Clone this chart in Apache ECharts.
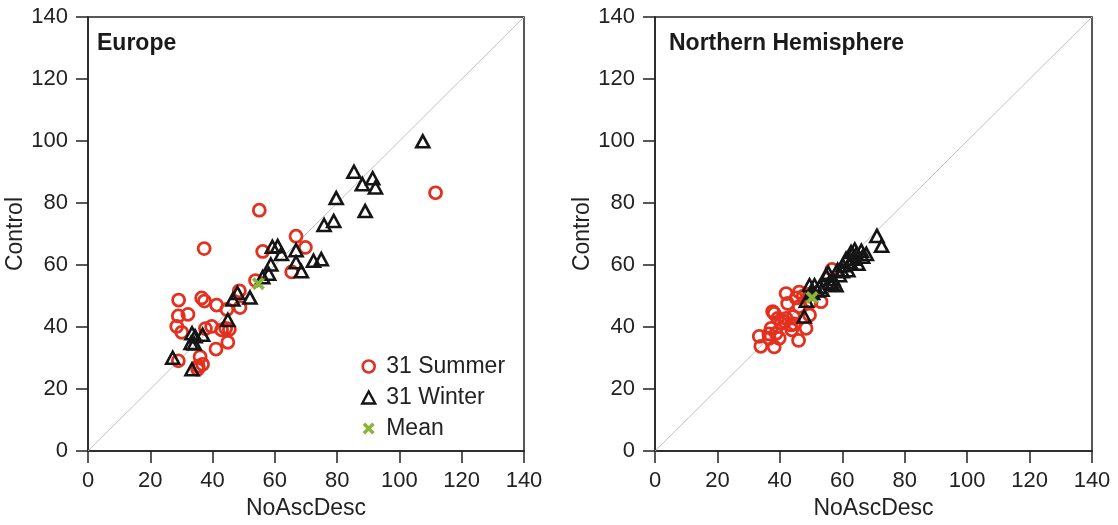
<!DOCTYPE html>
<html>
<head>
<meta charset="utf-8">
<script src="https://cdn.jsdelivr.net/npm/echarts@6/dist/echarts.min.js"></script>
<style>
html,body{margin:0;padding:0;background:#fff;}
#c{width:1118px;height:525px;}
</style>
</head>
<body>
<div id="c"></div>
<script>
// ---- Data ----
const axisTicks = [0, 20, 40, 60, 80, 100, 120, 140];
const panelTitles = ['Europe', 'Northern Hemisphere'];
const seriesNames = ['31 Summer', '31 Winter', 'Mean'];
const xAxisName = 'NoAscDesc';
const yAxisName = 'Control';

const europeSummer = [
  [111.6,83.3],[55,77.7],[66.8,69.3],[69.8,65.7],[56.1,64.4],[37.3,65.3],[65.4,57.8],
  [53.8,55],[48.6,51.7],[29.1,48.7],[36.5,49.4],[37.4,48.4],[41.3,47.1],[48.8,46.3],
  [44.6,45.7],[29,43.6],[32.1,44.1],[28.5,40.2],[30.1,38.3],[37.7,39.5],[39.7,40.2],
  [42.9,39.1],[44.2,39.6],[45.4,39.3],[44.9,35.1],[41.1,32.9],[29,29.1],[36,30.4],
  [36.8,28],[35.4,27.4],[35.2,26.4]
];
const europeWinter = [
  [107.5,99.9],[85.4,90.1],[88.1,86.1],[91.4,88],[92.3,85],[79.7,81.6],[89,77.4],
  [75.8,72.9],[78.9,74.2],[72.4,61.4],[74.9,61.9],[59.2,65.9],[60.9,66.1],[62.1,63.6],
  [66.8,64.8],[66.8,60.9],[68.5,58],[58.7,60.2],[58,57.2],[56.1,56.1],[52,49.5],
  [46.5,48.9],[44.9,42.3],[33.4,38],[34.4,37],[33.1,34.9],[34.1,34.7],[27.2,30.1],
  [33.4,26.4],[36.8,37.5],[48,51]
];
const europeMean = [[54.7,54]];

const nhSummer = [
  [56.7,58.6],[42,50.8],[46.2,51.3],[49.5,50.6],[45.2,49.4],[42.5,47.6],[46.2,46.6],
  [50,48.2],[53.2,48.2],[49.5,43.9],[37.7,45],[39.3,42.8],[42,42.8],[40.4,41.2],
  [43.6,40.7],[48.4,39.6],[37.2,39.6],[38.8,38],[33.4,37],[39.8,36.4],[36.6,36.4],
  [33.9,33.8],[38.2,33.6],[46,35.7],[44.6,41],[43.8,39.1],[38.2,44.4],[44.3,43.4],
  [41.5,41.8],[36.5,37.8],[47.5,50]
];
const nhWinter = [
  [71.1,69.4],[72.6,66.2],[67.7,63.6],[66.1,64.6],[64.5,63.6],[63.4,62],[65,60.4],
  [61.2,62],[60.2,59.9],[61.8,58.3],[59.1,56.7],[58,53.5],[55.9,54.5],[54.8,56.7],
  [51.1,53.5],[52.7,52.9],[49.5,53.5],[47.8,43.4],[56.8,54],[62.5,61],[64,65],
  [60,58],[57,55.5],[53.5,52],[50.5,51],[48.5,48.5],[58.5,58.5],[55.5,57.5],
  [62.8,64.2],[66.5,62.7],[52,51.8]
];
const nhMean = [[50.3,49.5]];

const diagonal = [[0,0],[140,140]];

// ---- Styles ----
const RED = '#e4301f';
const BLACK = '#151515';
const GREEN = '#8ab43a';
const FONT = 'Liberation Sans, Arial, sans-serif';
const XPATH = 'path://M0,2 L2,0 L5,3 L8,0 L10,2 L7,5 L10,8 L8,10 L5,7 L2,10 L0,8 L3,5 Z';

function mkAxis(idx, isX) {
  return {
    gridIndex: idx,
    type: 'value',
    min: 0, max: 140, interval: 20,
    name: isX ? xAxisName : yAxisName,
    nameLocation: 'middle',
    nameGap: isX ? 45 : 51,
    nameTextStyle: {fontFamily: FONT, fontSize: 23, color: '#222'},
    axisLine: {show: true, onZero: false, lineStyle: {color: '#222', width: 1.5}},
    axisTick: {show: true, inside: false, length: 12, lineStyle: {color: '#222', width: 1.5}},
    axisLabel: {fontFamily: FONT, fontSize: 22, color: '#222', margin: isX ? 19 : 20,
      formatter: v => axisTicks.includes(v) ? String(v) : ''},
    splitLine: {show: false}
  };
}

const grids = [
  {left: 88, right: 1118 - 524, top: 17, bottom: 525 - 456},
  {left: 655, right: 1118 - 1092, top: 17, bottom: 525 - 456}
].map(g => Object.assign(g, {show: true, borderColor: '#222', borderWidth: 1.5, backgroundColor: 'transparent'}));

function panelSeries(idx, summer, winter, mean) {
  return [
    {type: 'line', xAxisIndex: idx, yAxisIndex: idx, data: diagonal, symbol: 'none',
      lineStyle: {color: '#c2c2c2', width: 1}, silent: true, z: 1, legendHoverLink: false},
    {name: seriesNames[0], type: 'scatter', xAxisIndex: idx, yAxisIndex: idx, data: summer,
      symbol: 'circle', symbolSize: 12,
      itemStyle: {color: 'rgba(255,255,255,0)', borderColor: RED, borderWidth: 2.8, opacity: 1}, z: 3},
    {name: seriesNames[1], type: 'scatter', xAxisIndex: idx, yAxisIndex: idx, data: winter,
      symbol: 'triangle', symbolSize: [13, 12],
      itemStyle: {color: 'rgba(255,255,255,0)', borderColor: BLACK, borderWidth: 2.6, opacity: 1}, z: 4},
    {name: seriesNames[2], type: 'scatter', xAxisIndex: idx, yAxisIndex: idx, data: mean,
      symbol: XPATH, symbolSize: 13,
      itemStyle: {color: GREEN, opacity: 1}, z: 5}
  ];
}

const chart = echarts.init(document.getElementById('c'), null, {renderer: 'canvas'});
chart.setOption({
  animation: false,
  backgroundColor: '#fff',
  title: [
    {text: panelTitles[0], left: 97, top: 32, padding: 0,
      textStyle: {fontFamily: FONT, fontSize: 23, fontWeight: 'bold', color: '#1a1a1a'}},
    {text: panelTitles[1], left: 669, top: 32, padding: 0,
      textStyle: {fontFamily: FONT, fontSize: 23, fontWeight: 'bold', color: '#1a1a1a'}}
  ],
  legend: {
    left: 361, top: 355, orient: 'vertical', itemGap: 8,
    itemWidth: 13, itemHeight: 12, padding: 0,
    textStyle: {fontFamily: FONT, fontSize: 23, color: '#222', padding: [0, 0, 0, 6]},
    data: [
      {name: seriesNames[0], icon: 'circle', itemStyle: {color: 'rgba(255,255,255,0)', borderColor: RED, borderWidth: 2.6, opacity: 1}},
      {name: seriesNames[1], icon: 'triangle', itemStyle: {color: 'rgba(255,255,255,0)', borderColor: BLACK, borderWidth: 2.4, opacity: 1}},
      {name: seriesNames[2], icon: XPATH, itemStyle: {color: GREEN, opacity: 1}}
    ]
  },
  grid: grids,
  xAxis: [mkAxis(0, true), mkAxis(1, true)],
  yAxis: [mkAxis(0, false), mkAxis(1, false)],
  series: [
    ...panelSeries(0, europeSummer, europeWinter, europeMean),
    ...panelSeries(1, nhSummer, nhWinter, nhMean)
  ]
});
</script>
</body>
</html>
